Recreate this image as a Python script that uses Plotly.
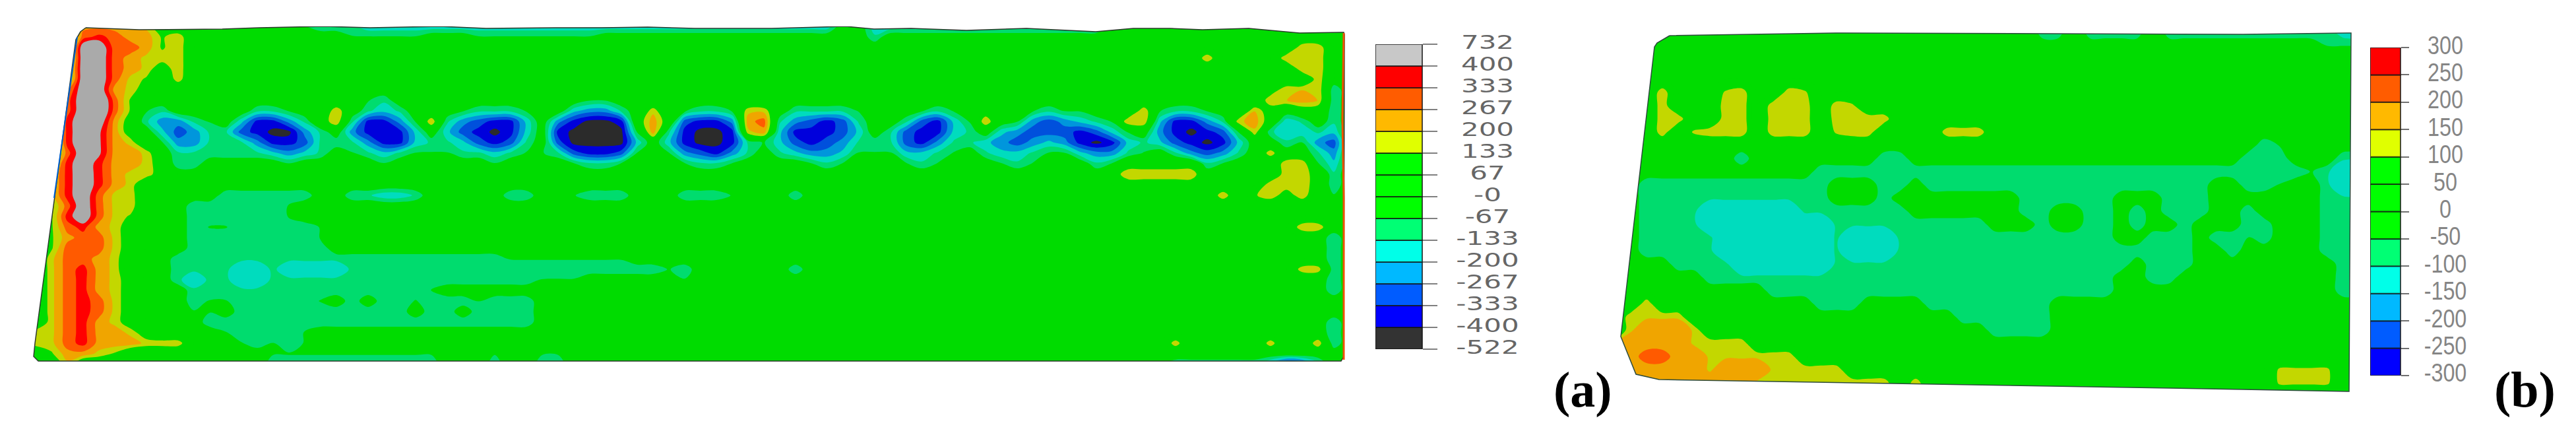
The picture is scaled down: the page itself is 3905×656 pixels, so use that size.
import plotly.graph_objects as go

# ---------- value codes ----------
codes_a = {'.': 0, '0': 0, '1': 60, '2': 120, '3': 180, 'h': 198, '4': 240, '5': 300, '6': 360, '7': 420, '8': 480, '9': 540,
           'a': -60, 'b': -120, 'c': -180, 'd': -240, 'e': -300, 'f': -360, 'g': -420}
codes_b = {'.': 0, 'y': 145, 'o': 175, 'r': 225, 'u': 115, 't': -95, 'c': -130, 's': -45}

grid_a_x = [30 + 24 * i for i in range(85)]
grid_a_y = [40 + 16 * i for i in range(33)]
grid_b_x = [2448 + 24 * i for i in range(48)]
grid_b_y = [40 + 20 * i for i in range(29)]

# readings: (row, first column, values by code); every other cell reads as 0
readings_a = [
 (0,4,"44443"),(1,4,"565442h"),(2,4,"885542h"),(3,4,"885433h"),(4,3,"1885431h"),(5,3,"18853203"),
 (6,3,"488431"),(7,3,"58952"),(8,3,"58952"),(9,3,"68841"),(10,3,"68741"),(11,3,"68743"),(12,3,"587443"),
 (13,2,"26864431"),(14,2,"36864331"),(15,2,"368643"),(16,2,"368533"),(17,2,"258533"),(18,2,"268532"),
 (19,2,"256431"),(20,2,"245531"),(21,2,"255531"),(22,2,"35543"),(23,2,"35643"),(24,2,"356431"),
 (25,2,"356431"),(26,2,"356531"),(27,2,"356531"),(28,2,"356431"),(29,1,"33564431"),(30,0,"33356444333"),
 (31,2,"24432"),(32,3,"3"),
 # blob A
 (8,8,"ab"),(9,8,"bddba"),(10,9,"cedb"),(11,9,"addbb"),(12,10,"bbbb"),(13,10,"bb"),
 # blob B
 (8,15,"bba"),(9,14,"cffdb"),(10,13,"befggdb"),(11,13,"bbdffeb"),(12,14,"bbcdcb"),(13,17,"a"),
 # blob C
 (7,22,"ab"),(8,22,"bcb"),(9,21,"bffda"),(10,21,"dfffc"),(11,20,"bbdffc"),(12,21,"abcba"),(13,23,"a"),
 (8,20,"h"),(9,19,"1h"),(9,26,"h"),
 # blob D
 (8,28,"abbba"),(9,27,"bdeffc"),(10,27,"cefgfc"),(11,26,"bbcefeb"),(12,26,"aabbcba"),(12,33,"a"),(13,30,"a"),
 # blob E
 (7,36,"aa"),(8,35,"cddb"),(9,34,"dfggf1"),(10,34,"fgggg"),(11,34,"eggggc"),(12,34,"beffea"),(13,35,"abba"),
 (8,40,"3"),(9,40,"4"),(10,39,"a4"),
 # blob F
 (8,42,"abba"),(9,41,"1effda"),(10,41,"bfggfb"),(11,41,"cfggfb"),(12,41,"adefdb"),(13,42,"abba"),
 (8,46,"33"),(9,46,"45"),(10,46,"34"),
 # blob G
 (8,49,"bbbba"),(9,48,"bdefeb"),(10,48,"cfffec"),(11,47,"acefedb"),(12,48,"bcddca"),(13,50,"aba"),
 (11,54,"b"),(12,54,"a"),
 # blob H
 (8,57,"aba"),(9,56,"befca"),(10,55,"beffcb"),(11,55,"befdbb"),(12,55,"accba"),(13,56,"aba"),(8,61,"1"),(9,61,"h"),
 # blob I
 (8,64,"abaa"),(9,63,"adedcba"),(10,62,"cdeeefeca"),(11,61,"cdedcdfgfca"),(12,61,"bccbaacddba"),
 (13,62,"aba"),(13,68,"ba"),(8,71,"h"),(9,70,"hh"),
 # blob J
 (8,72,"abba"),(9,72,"cffdb"),(10,72,"dfgfea"),(11,71,"bcefgfc"),(12,73,"bdedb"),(13,74,"aba"),
 # right side
 (6,79,"1hhh"),(7,79,"hh4h"),(8,78,"h1.11"),(9,77,"341"),(9,80,"cb"),(10,78,"3"),(10,79,"bccbc"),
 (11,80,"bade"),(12,82,"bd"),(13,80,"hhac"),(14,80,"hh1b"),(15,79,"hhh1b"),(16,78,"2h1h.a"),
 (2,81,"hh"),(3,80,"hhh"),(4,81,"hh"),(5,82,"3"),(3,75,"h"),
 (6,83,"b"),(7,83,"b"),(8,83,"b"),(9,83,"b"),
 (19,81,"hh"),(23,81,"33"),(30,82,"h"),(30,73,"3"),(30,79,"3"),(16,76,"h"),(12,79,"3"),
 (20,83,"b"),(21,83,"b"),(22,83,"b"),(23,83,"b"),(24,83,"b"),(25,83,"b"),(28,83,"b"),(29,83,"b"),(30,83,"b"),
 (13,70,"11111"),(14,69,"1hhhhh"),(15,70,"11111"),(16,49,"b"),(23,49,"b"),
 (32,72,"abbbbbbdgfc"),
 # top edge strip
 (0,17,"aabbb"),(0,22,"cccccccccccccccccccccccccccccc"),(0,54,"ccccccccccccccc"),
 (1,21,"aaaaa"),(1,29,"aaaaaaaa"),(1,54,"b"),
 # lower area
 (16,13,"bbbbbb"),(16,21,"bbccb"),(16,31,"bb"),(16,35,"abbb"),(16,42,"bbba"),
 (17,11,"bbbbbba"),(18,11,"bbbbbba"),(19,11,"baabbbbba"),(20,11,"bbbbbbbba"),(21,11,"bbbbbbbbb"),
 (22,10,"bbbbbbbbbbbbbbbbbbbbb"),(22,31,"aaaaaaaa"),
 (23,10,"bbbbccbcccc"),(23,21,"bbbbbbbbbbbbbbbbbbbb"),(23,41,"ab"),
 (24,10,"bcbbccb"),(24,17,"bbbbbbbbbbbbbbbb"),(24,33,"aaa"),(24,42,"a"),
 (25,11,"bbbbbbbbbbbbbbb"),(25,26,"a"),
 (26,11,"baabbbbba.b.bbabbbabbb"),(27,11,"aa.bbbbbbbbbbb.bb.bbbb"),
 (28,12,"bbbbbbbbbbbbbbbbbbbbb"),(29,13,"abbbba"),(30,14,"ababa"),
 (31,16,"aaaaaaaaaaa"),(31,30,"a"),(31,33,"aa"),
 (32,16,"bbbbbbbbbbb"),(32,30,"b"),(32,33,"bb"),
]

readings_b = [
 (0,27,"tt"),(0,30,"tttt"),(0,35,"tttt"),(0,39,"t"),(0,40,"tttttt"),(0,46,"cc"),
 (1,27,"ss"),(1,30,"ssss"),(1,35,"ssss"),(1,39,"s"),(1,40,"sssss"),(1,45,"ttt"),
 (5,3,"y"),(5,7,"uy"),(5,11,"yu"),
 (6,3,"y"),(6,7,"yy"),(6,10,"yyy"),(6,14,"yu"),
 (7,3,"yy"),(7,7,"yy"),(7,10,"yyy"),(7,14,"yyyy"),
 (8,3,"y"),(8,5,"uyyy"),(8,10,"yyy"),(8,14,"uyy"),(8,21,"yyy"),
 (9,41,"ts"),
 (10,8,"t"),(10,17,"tt"),(10,40,"ttt"),(10,46,"tt"),
 (11,13,"tt"),(11,15,"tttttttttttttttttttttttt"),(11,39,"t"),(11,40,"tttt"),(11,44,"s"),(11,45,"tcc"),
 (12,2,"tttttttttttt"),(12,17,"tt"),(12,20,"tttttttttttttttttt"),(12,40,"tts"),(12,45,"tcc"),
 (13,2,"tttttttttttt"),(13,17,"t"),(13,26,"tttttt"),(13,35,"ttt"),(13,45,"ttt"),
 (14,2,"tttt"),(14,6,"cccccc"),(14,12,"ttttttt"),(14,26,"tt"),(14,30,"tt"),(14,33,"t"),(14,35,"ttt"),(14,40,"t"),(14,45,"ttt"),
 (15,2,"tttt"),(15,6,"cccccccc"),(15,14,"tttttttttt"),(15,27,"t"),(15,30,"tt"),(15,33,"t"),(15,36,"t"),(15,40,"tt"),(15,45,"ttt"),
 (16,2,"ttttt"),(16,7,"ccccccc"),(16,14,"t"),(16,15,"ccc"),(16,18,"tttttttttttttt"),(16,34,"ttt"),(16,38,"tt"),(16,40,"st"),(16,45,"ttt"),
 (17,2,"ttttt"),(17,7,"ccccccc"),(17,14,"t"),(17,15,"ccc"),(17,18,"ttttttttttttttttttt"),(17,39,"t"),(17,45,"tt"),
 (18,4,"tttt"),(18,8,"cccccc"),(18,14,"ttttttttttttttttttt"),(18,34,"ttt"),(18,46,"tt"),
 (19,6,"tttttttttttttttttttttttttt"),(19,34,"tt"),(19,46,"t"),
 (20,10,"tttttttttttttttttttttt"),(20,46,"tt"),
 (21,13,"ttt"),(21,20,"tttttttt"),(21,2,"y"),
 (22,22,"tttttt"),(22,1,"yyyy"),
 (23,24,"tttt"),(23,1,"yoooy"),
 (24,0,"yooooyyyy"),(25,1,"orrooyyyyyy"),(26,1,"oooooyoooyyyyy"),
 (27,2,"oooooooyyyyyyyyy"),(27,19,"y"),(28,2,"oooooooyyyyyyyyy"),(28,19,"y"),
 (26,42,"uuuu"),(27,42,"uuuu"),
]

# plate outlines
plate_a_x = [130,211,337,393,491,561,667,737,842,912,982,1053,1100,1170,1282,1325,1381,1465,1556,1661,1718,1774,1823,1893,1970,2037,2038,2037,2033,58,51,53,115,122,130]
plate_a_y = [42,45,44,42,40,42,40,43,42,42,41,43,43,43,40,44,43,46,43,48,43,43,45,43,50,49,52,540,547,547,540,520,60,48,42]
plate_b_x = [2531,2783,3400,3564,3561,3400,2515,2480,2457,2508,2512,2531]
plate_b_y = [54,50,52,50,593,590,575,567,510,71,65,54]
edge_a_right_x = [2037,2035,2037,2037]
edge_a_right_y = [50,180,300,545]
edge_a_left_x = [117,82]
edge_a_left_y = [56,300]

# legends, bottom band first
levels_a = ["-522","-400","-333","-267","-200","-133","-67","-0","67","133","200","267","333","400","732"]
levels_b = ["-300","-250","-200","-150","-100","-50","0","50","100","150","200","250","300"]
legend_a_colors = ['#333333','#0000ff','#005cff','#00b9ff','#00ffe8','#00ff74','#00ff00','#00ff00','#00ff00','#e0ff00','#ffb900','#ff5c00','#ff0000','#c8c8c8']
legend_b_colors = ['#0000ff','#005cff','#00b9ff','#00ffe8','#00ff74','#00ff00','#00ff00','#00ff00','#e0ff00','#ffb900','#ff5c00','#ff0000']
plate_a_colors = ['#2b2b2b','#0000dc','#0050dc','#0096dc','#00dcbe','#00dc6e','#00dc00','#00dc00','#00dc00','#c3d700','#f0a500','#ff5a00','#ff0000','#aaaaaa']
plate_b_colors = ['#0000dc','#0050dc','#0096dc','#00dcbe','#00dc6e','#00dc00','#00dc00','#00dc00','#c3d700','#f0a500','#ff5a00','#ff0000']

W, H = 3905, 656


def build(nr, nc, readings, codes):
    z = [[0.0] * nc for _ in range(nr)]
    for r, c, s in readings:
        for i, ch in enumerate(s):
            z[r][c + i] = float(codes[ch])
    return z


def steps(colors):
    n = len(colors)
    out = []
    for i, col in enumerate(colors):
        out += [[i / n, col], [(i + 1) / n, col]]
    return out


def dx(a, b):
    return [a / W, b / W]


def dy(top, bottom):
    return [1 - bottom / H, 1 - top / H]


def mask(xs, ys, x0, x1, y0, y1):
    return ([x0, x0, x1, x1, x0] + list(xs) + [x0], [y0, y1, y1, y0, y0] + list(ys) + [y0])


fig = go.Figure()

za = build(len(grid_a_y), len(grid_a_x), readings_a, codes_a)
zb = build(len(grid_b_y), len(grid_b_x), readings_b, codes_b)

fig.add_trace(go.Contour(x=grid_a_x, y=grid_a_y, z=za, xaxis='x', yaxis='y', showscale=False,
                         zmin=-466.67, zmax=466.67, colorscale=steps(plate_a_colors),
                         contours=dict(coloring='fill', showlines=False, start=-400, end=400.01, size=66.667),
                         line=dict(width=0, smoothing=1), hoverinfo='skip'))
mx, my = mask(plate_a_x, plate_a_y, grid_a_x[0], grid_a_x[-1], grid_a_y[0], grid_a_y[-1])
fig.add_trace(go.Scatter(x=mx, y=my, xaxis='x', yaxis='y', mode='lines', fill='toself', fillcolor='white',
                         line=dict(width=0), hoverinfo='skip', showlegend=False))
fig.add_trace(go.Scatter(x=plate_a_x, y=plate_a_y, xaxis='x', yaxis='y', mode='lines',
                         line=dict(color='#2c3a2c', width=1.5), hoverinfo='skip', showlegend=False))
fig.add_trace(go.Scatter(x=edge_a_right_x, y=edge_a_right_y, xaxis='x', yaxis='y', mode='lines',
                         line=dict(color='#f05000', width=3), hoverinfo='skip', showlegend=False))
fig.add_trace(go.Scatter(x=edge_a_left_x, y=edge_a_left_y, xaxis='x', yaxis='y', mode='lines',
                         line=dict(color='#0060d0', width=2), hoverinfo='skip', showlegend=False))

fig.add_trace(go.Contour(x=grid_b_x, y=grid_b_y, z=zb, xaxis='x2', yaxis='y2', showscale=False,
                         zmin=-300, zmax=300, colorscale=steps(plate_b_colors),
                         contours=dict(coloring='fill', showlines=False, start=-250, end=250.01, size=50),
                         line=dict(width=0, smoothing=1), hoverinfo='skip'))
mx, my = mask(plate_b_x, plate_b_y, grid_b_x[0], grid_b_x[-1], grid_b_y[0], grid_b_y[-1])
fig.add_trace(go.Scatter(x=mx, y=my, xaxis='x2', yaxis='y2', mode='lines', fill='toself', fillcolor='white',
                         line=dict(width=0), hoverinfo='skip', showlegend=False))
fig.add_trace(go.Scatter(x=plate_b_x, y=plate_b_y, xaxis='x2', yaxis='y2', mode='lines',
                         line=dict(color='#2c4a3c', width=1.5), hoverinfo='skip', showlegend=False))


def legend_traces(colors, labels, xa, ya, bar_c, bar_w, label_x, size, family, color):
    n = len(colors)
    fig.add_trace(go.Bar(x=[bar_c] * n, y=[1] * n, base=list(range(n)), width=bar_w, xaxis=xa, yaxis=ya,
                         marker=dict(color=colors, line=dict(color='rgba(20,20,20,0.75)', width=2)),
                         hoverinfo='skip', showlegend=False))
    fig.add_trace(go.Scatter(x=[label_x] * len(labels), y=list(range(len(labels))), text=labels, mode='text',
                             xaxis=xa, yaxis=ya, textposition='middle center', cliponaxis=False,
                             textfont=dict(size=size, family=family, color=color),
                             hoverinfo='skip', showlegend=False))


legend_traces(legend_a_colors, levels_a, 'x3', 'y3', 2120.5, 71, 2255, 28, 'DejaVu Sans', '#666666')
legend_traces(legend_b_colors, levels_b, 'x4', 'y4', 3616, 46, 3707, 38, 'Liberation Sans', '#858585')

hidden = dict(visible=False, fixedrange=True)
fig.update_layout(
    width=W, height=H, margin=dict(l=0, r=0, t=0, b=0), paper_bgcolor='white', plot_bgcolor='white',
    barmode='overlay', showlegend=False,
    xaxis=dict(domain=dx(grid_a_x[0], grid_a_x[-1]), range=[grid_a_x[0], grid_a_x[-1]], anchor='y', **hidden),
    yaxis=dict(domain=dy(grid_a_y[0], grid_a_y[-1]), range=[grid_a_y[-1], grid_a_y[0]], anchor='x', **hidden),
    xaxis2=dict(domain=dx(grid_b_x[0], grid_b_x[-1]), range=[grid_b_x[0], grid_b_x[-1]], anchor='y2', **hidden),
    yaxis2=dict(domain=dy(grid_b_y[0], grid_b_y[-1]), range=[grid_b_y[-1], grid_b_y[0]], anchor='x2', **hidden),
    xaxis3=dict(domain=dx(2085, 2320), range=[2085, 2320], anchor='y3', **hidden),
    yaxis3=dict(domain=dy(67, 529), range=[0, 14], anchor='free', position=2156 / W, side='right',
                tickmode='array', tickvals=list(range(15)), ticks='outside', ticklen=22, tickwidth=2,
                tickcolor='#808080', showticklabels=False, showgrid=False, zeroline=False, showline=False,
                fixedrange=True),
    xaxis4=dict(domain=dx(3593, 3760), range=[3593, 3760], anchor='y4', **hidden),
    yaxis4=dict(domain=dy(72, 569), range=[0, 12], anchor='free', position=3639 / W, side='right',
                tickmode='array', tickvals=list(range(13)), ticks='outside', ticklen=12, tickwidth=2,
                tickcolor='#707070', showticklabels=False, showgrid=False, zeroline=False, showline=False,
                fixedrange=True),
    annotations=[
        dict(text='(a)', x=2399 / W, y=1 - 590 / H, xref='paper', yref='paper', showarrow=False,
             xanchor='center', yanchor='middle',
             font=dict(family='Liberation Serif', size=76, color='black', weight='bold')),
        dict(text='(b)', x=3827 / W, y=1 - 590 / H, xref='paper', yref='paper', showarrow=False,
             xanchor='center', yanchor='middle',
             font=dict(family='Liberation Serif', size=76, color='black', weight='bold')),
    ],
)

# the legend lettering in the reference is horizontally stretched (a) / condensed (b)
stretch = """
document.body.style.margin='0';document.documentElement.style.overflow='hidden';
setTimeout(function(){
  document.querySelectorAll('.textpoint text').forEach(function(t){
    var f=t.style.fontFamily||'';
    var s=f.indexOf('DejaVu')>=0?1.5:(f.indexOf('Liberation')>=0?0.85:1);
    var x=t.getAttribute('x');
    t.setAttribute('transform','translate('+x+' 0) scale('+s+' 1) translate('+(-x)+' 0)');
  });
},50);
"""
fig.write_html("out.html", config=dict(displayModeBar=False), post_script=stretch)
